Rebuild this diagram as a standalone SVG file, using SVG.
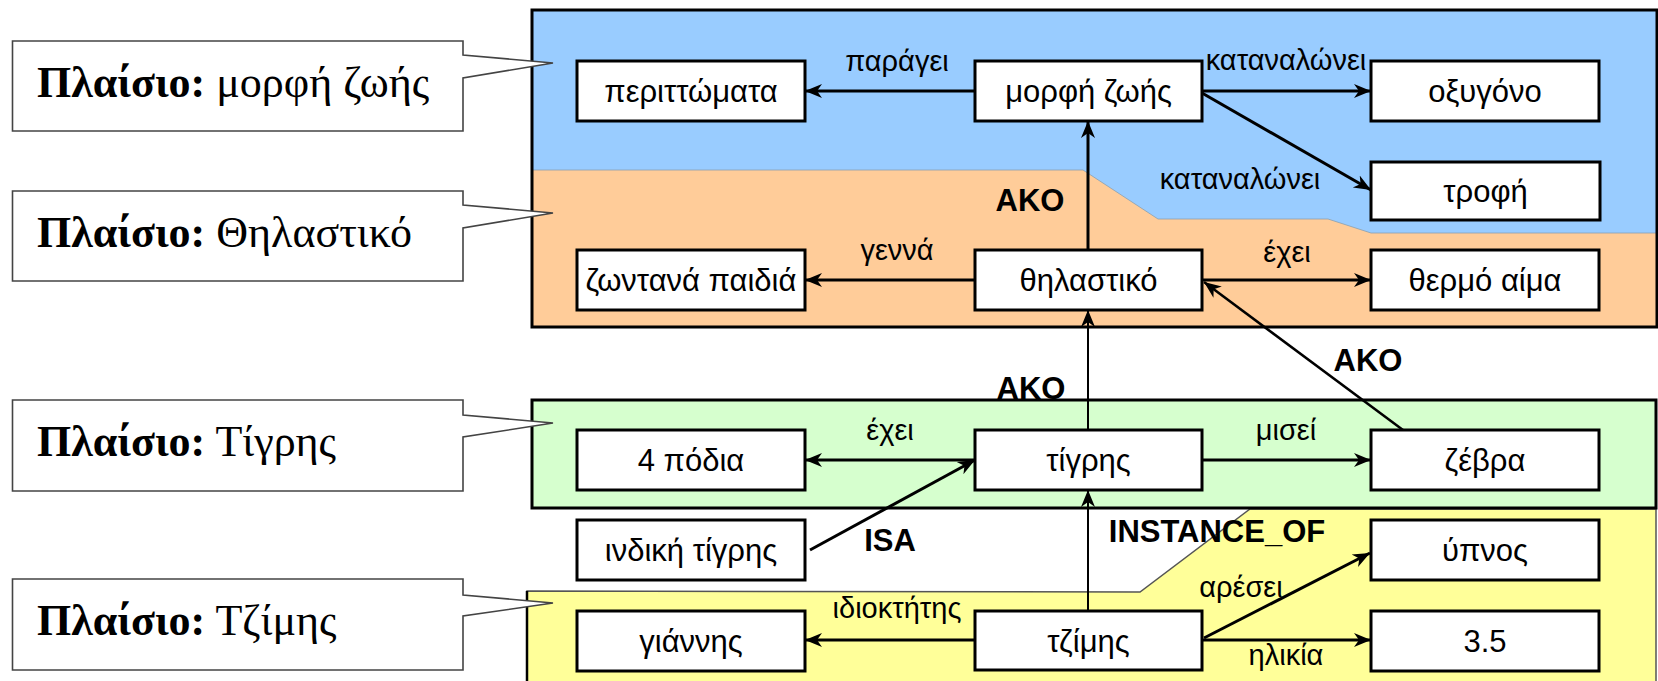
<svg xmlns="http://www.w3.org/2000/svg" width="1658" height="681" viewBox="0 0 1658 681">
<defs>
<marker id="arr" markerUnits="userSpaceOnUse" viewBox="0 -8 18 16" refX="17" refY="0" markerWidth="18" markerHeight="16" orient="auto">
<path d="M0,-7 L17,0 L0,7 L5,0 Z" fill="#000"/>
</marker>
<style>
.node rect{fill:#fff;stroke:#000;stroke-width:3}
.node text{font-family:"Liberation Sans",Arial,sans-serif;font-size:31px;text-anchor:middle;fill:#000}
.edge line{stroke:#000;stroke-width:3;marker-end:url(#arr)}
.edge line.thin{stroke-width:2}
.lbl{font-family:"Liberation Sans",Arial,sans-serif;font-size:29px;text-anchor:middle;fill:#000}
.blbl{font-family:"Liberation Sans",Arial,sans-serif;font-size:31px;font-weight:bold;text-anchor:middle;fill:#000}
.callout polygon{fill:#fff;stroke:#444;stroke-width:1.6}
.callout text{font-family:"Liberation Serif","Times New Roman",serif;font-size:44px;fill:#000}
.callout tspan.b{font-weight:bold}
</style>
</defs>
<rect width="1658" height="681" fill="#fff"/>
<g id="regions">
<rect x="532" y="10" width="1125" height="317" fill="#99CCFF"/>
<polygon points="532,170 1083,170 1158,219 1328,219 1371,233 1657,233 1657,327 532,327" fill="#FFCC99" stroke="#8aa0b0" stroke-width="0.8"/>
<rect x="532" y="10" width="1125" height="317" fill="none" stroke="#000" stroke-width="3"/>
<polygon points="527,591 1140,592 1250,509 1656,509 1656,683 527,683" fill="#FFFF99" stroke="#555" stroke-width="1.5"/>
<line x1="527" y1="591" x2="527" y2="681" stroke="#000" stroke-width="2.5"/>
<rect x="532" y="400" width="1124" height="108" fill="#D6FFCE" stroke="#000" stroke-width="3"/>
</g>
<g id="callouts">
<g id="callout-morfi" class="callout">
<polygon points="12.5,41 463,41 463,55 553,63 463,78 463,131 12.5,131"/>
<text x="37" y="97"><tspan class="b">Πλαίσιο:</tspan> μορφή ζωής</text>
</g>
<g id="callout-thilastiko" class="callout">
<polygon points="12.5,191 463,191 463,205 553,213 463,228 463,281 12.5,281"/>
<text x="37" y="247"><tspan class="b">Πλαίσιο:</tspan> Θηλαστικό</text>
</g>
<g id="callout-tigris" class="callout">
<polygon points="12.5,400 463,400 463,415 553,423 463,437 463,491 12.5,491"/>
<text x="37" y="456"><tspan class="b">Πλαίσιο:</tspan> Τίγρης</text>
</g>
<g id="callout-tzimis" class="callout">
<polygon points="12.5,579 463,579 463,595 553,603 463,616 463,670 12.5,670"/>
<text x="37" y="635"><tspan class="b">Πλαίσιο:</tspan> Τζίμης</text>
</g>
</g>
<g id="connectors" class="edge">
<line x1="975" y1="91" x2="805" y2="91"/>
<text class="lbl" x="897" y="71">παράγει</text>
<line x1="1202" y1="91" x2="1371" y2="91"/>
<text class="lbl" x="1286" y="70">καταναλώνει</text>
<line x1="1202" y1="93" x2="1371" y2="190"/>
<text class="lbl" x="1240" y="189">καταναλώνει</text>
<line x1="1088" y1="250" x2="1088" y2="121"/>
<text class="blbl" x="1030" y="211">AKO</text>
<line x1="975" y1="280" x2="805" y2="280"/>
<text class="lbl" x="897" y="260">γεννά</text>
<line x1="1202" y1="280" x2="1371" y2="280"/>
<text class="lbl" x="1287" y="262">έχει</text>
<line x1="1403" y1="430" x2="1204" y2="282" style="stroke-width:2.5"/>
<text class="blbl" x="1368" y="371">AKO</text>
<line class="thin" x1="1088" y1="430" x2="1088" y2="310"/>
<text class="blbl" x="1031" y="399">AKO</text>
<line x1="975" y1="460" x2="805" y2="460"/>
<text class="lbl" x="890" y="440">έχει</text>
<line x1="1202" y1="460" x2="1371" y2="460"/>
<text class="lbl" x="1286" y="440">μισεί</text>
<line x1="810" y1="550" x2="975" y2="460"/>
<text class="blbl" x="890" y="551">ISA</text>
<line class="thin" x1="1088" y1="611" x2="1088" y2="490"/>
<text class="blbl" x="1217" y="542">INSTANCE_OF</text>
<line x1="975" y1="640" x2="805" y2="640"/>
<text class="lbl" x="897" y="618">ιδιοκτήτης</text>
<line x1="1204" y1="638" x2="1370" y2="553"/>
<text class="lbl" x="1241" y="597">αρέσει</text>
<line x1="1202" y1="640" x2="1371" y2="640"/>
<text class="lbl" x="1286" y="665">ηλικία</text>
</g>
<g id="n-perittomata" class="node"><rect x="577" y="61" width="228" height="60"/><text x="691" y="102">περιττώματα</text></g>
<g id="n-morfi-zois" class="node"><rect x="975" y="61" width="227" height="60"/><text x="1088.5" y="102">μορφή ζωής</text></g>
<g id="n-oxygono" class="node"><rect x="1371" y="61" width="228" height="60"/><text x="1485" y="102">οξυγόνο</text></g>
<g id="n-trofi" class="node"><rect x="1371" y="162" width="229" height="58"/><text x="1485.5" y="202">τροφή</text></g>
<g id="n-zontana-paidia" class="node"><rect x="577" y="250" width="228" height="60"/><text x="691" y="291">ζωντανά παιδιά</text></g>
<g id="n-thilastiko" class="node"><rect x="975" y="250" width="227" height="60"/><text x="1088.5" y="291">θηλαστικό</text></g>
<g id="n-thermo-aima" class="node"><rect x="1371" y="250" width="228" height="60"/><text x="1485" y="291">θερμό αίμα</text></g>
<g id="n-4-podia" class="node"><rect x="577" y="430" width="228" height="60"/><text x="691" y="471">4 πόδια</text></g>
<g id="n-tigris" class="node"><rect x="975" y="430" width="227" height="60"/><text x="1088.5" y="471">τίγρης</text></g>
<g id="n-zevra" class="node"><rect x="1371" y="430" width="228" height="60"/><text x="1485" y="471">ζέβρα</text></g>
<g id="n-indiki-tigris" class="node"><rect x="577" y="520" width="228" height="60"/><text x="691" y="561">ινδική τίγρης</text></g>
<g id="n-ypnos" class="node"><rect x="1371" y="520" width="228" height="60"/><text x="1485" y="561">ύπνος</text></g>
<g id="n-giannis" class="node"><rect x="577" y="611" width="228" height="60"/><text x="691" y="652">γιάννης</text></g>
<g id="n-tzimis" class="node"><rect x="975" y="611" width="227" height="59"/><text x="1088.5" y="652">τζίμης</text></g>
<g id="n-3-5" class="node"><rect x="1371" y="611" width="228" height="60"/><text x="1485" y="652">3.5</text></g>
</svg>
